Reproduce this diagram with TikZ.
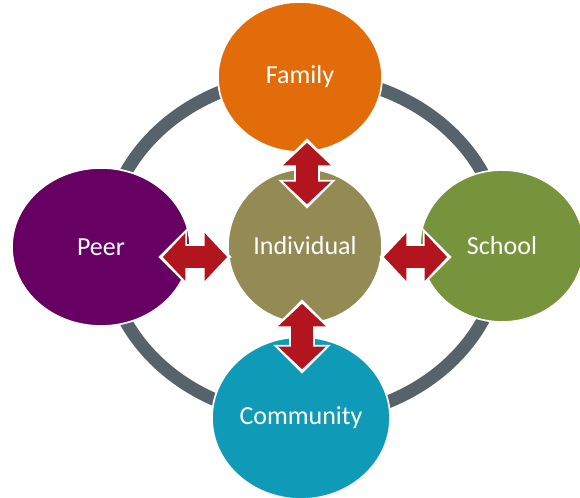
\documentclass[tikz,border=0pt]{standalone}
\usepackage{fontspec}
\setmainfont{Carlito}
\usepackage{tikz}
\usepackage{xcolor}
\usetikzlibrary{shapes.geometric,arrows.meta,calc}

\definecolor{famorange}{HTML}{E36C0A}
\definecolor{indolive}{HTML}{948A54}
\definecolor{peerpurple}{HTML}{660062}
\definecolor{schoolgreen}{HTML}{77933C}
\definecolor{commteal}{HTML}{0F9BB7}
\definecolor{ringgray}{HTML}{57636B}
\definecolor{arrowred}{HTML}{B2151D}

\begin{document}
\begin{tikzpicture}[
  x=0.025cm, y=0.025cm,
  blob/.style={ellipse, draw=white, line width=1.2pt, text=white, inner sep=0pt, font=\fontsize{18.5}{22}\selectfont},
  ring/.style={draw=ringgray, line width=9.2pt},
  linkbg/.style={draw=white, line width=19pt, shorten <=-3.2pt, shorten >=-3.2pt,
    {Triangle[length=20.5pt, width=41pt, line width=0pt]}-{Triangle[length=20.5pt, width=41pt, line width=0pt]}},
  link/.style={draw=arrowred, line width=15.6pt,
    {Triangle[length=16pt, width=34pt, line width=0pt]}-{Triangle[length=16pt, width=34pt, line width=0pt]}}
]
\useasboundingbox (0,0) rectangle (580,498);
% outer ring
\coordinate (mid) at (304,251);
\draw[ring] (mid) ellipse [x radius=198, y radius=171];
% circles
\node[blob, fill=famorange, minimum width=116.7pt, minimum height=106.7pt] (fam) at (300,421) {Family};
\node[blob, fill=peerpurple, minimum width=126.6pt, minimum height=112.4pt] (peer) at (101,251) {Peer};
\node[blob, fill=schoolgreen, minimum width=116.7pt, minimum height=108.1pt] (school) at (502,252) {School};
\node[blob, fill=commteal, minimum width=126.6pt, minimum height=115.2pt] (comm) at (301,80) {Community};
\node[blob, fill=indolive, minimum width=109.5pt, minimum height=109.5pt] (ind) at (305,252) {Individual};
% arrow ends
\coordinate (fa) at ($(fam.south)+(7,10)$);
\coordinate (ia) at ($(ind.north)+(2,-36)$);
\coordinate (ib) at ($(ind.south)+(-3,20)$);
\coordinate (cb) at ($(comm.north)+(1,-33)$);
\coordinate (ic) at ($(ind.west)+(0,-11)$);
\coordinate (pc) at ($(peer.east)+(-28,-10)$);
\coordinate (id) at ($(ind.east)+(1,-11)$);
\coordinate (sd) at ($(school.west)+(28,-11)$);
\foreach \a/\b in {fa/ia, ib/cb, ic/pc, id/sd}{
  \draw[linkbg] (\a) -- (\b);
  \draw[link] (\a) -- (\b);
}
\end{tikzpicture}
\end{document}
